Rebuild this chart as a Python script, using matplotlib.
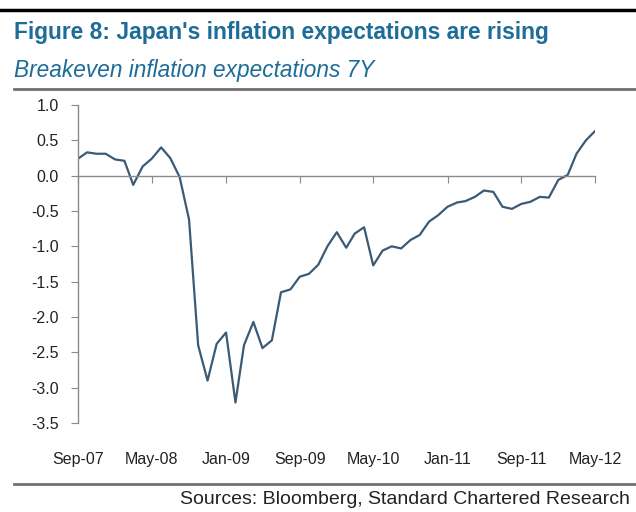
import numpy as np
import pandas as pd
import matplotlib
matplotlib.use('Agg')
import matplotlib.pyplot as plt
from matplotlib.lines import Line2D
from matplotlib.transforms import blended_transform_factory

plt.rcParams['font.family'] = ['Liberation Sans', 'DejaVu Sans']

# Monthly 7Y breakeven inflation, Sep-07 .. May-12
months = pd.date_range('2007-09-01', '2012-05-01', freq='MS')
breakeven_7y = [
    0.24, 0.33, 0.31, 0.31, 0.23, 0.21, -0.13, 0.13, 0.24, 0.40,
    0.25, -0.02, -0.62, -2.40, -2.90, -2.38, -2.22, -3.21, -2.40, -2.07,
    -2.44, -2.33, -1.65, -1.61, -1.43, -1.39, -1.26, -1.00, -0.80, -1.02,
    -0.82, -0.73, -1.27, -1.06, -1.00, -1.03, -0.91, -0.84, -0.65, -0.56,
    -0.44, -0.38, -0.36, -0.30, -0.21, -0.23, -0.44, -0.47, -0.40, -0.37,
    -0.30, -0.31, -0.06, 0.01, 0.31, 0.50, 0.63,
]
tick_months = months[::8]
tick_labels = [d.strftime('%b-%y') for d in tick_months]
y_ticks = np.arange(-3.5, 1.01, 0.5)

title_blue = '#1e6c98'
line_col = '#3b5a75'
axis_gray = '#8a8a8a'

W, H = 636, 512
fig = plt.figure(figsize=(W / 100, H / 100), dpi=100)
ax = fig.add_axes([78 / W, 1 - 423 / H, (595 - 78) / W, (423 - 105) / H])

ax.plot(months, breakeven_7y, color=line_col, lw=1.6)

ax.set_xlim(months[0], months[-1])
ax.set_ylim(-3.5, 1.0)
ax.set_yticks(y_ticks)
ax.set_yticklabels([f'{v:.1f}' for v in y_ticks])
ax.set_xticks(tick_months)

for s in ('top', 'right'):
    ax.spines[s].set_visible(False)
ax.spines['bottom'].set_position(('data', 0))
for s in ('left', 'bottom'):
    ax.spines[s].set_color(axis_gray)
    ax.spines[s].set_linewidth(1.0)

ax.tick_params(axis='x', labelbottom=False, direction='out', length=5,
               color=axis_gray)
ax.tick_params(axis='y', direction='out', length=5, color=axis_gray,
               labelsize=11.5, labelcolor='#222222', pad=9)

# month labels sit under the plot area, not on the zero line
trans = blended_transform_factory(ax.transData, ax.transAxes)
for d, lab in zip(tick_months, tick_labels):
    ax.text(d, -0.116, lab, transform=trans, ha='center', va='center',
            fontsize=11.5, color='#222222')

# header / footer rules
fig.add_artist(Line2D([0, 1], [1 - 10 / H] * 2, color='black', lw=2.5))
fig.add_artist(Line2D([14 / W, 1], [1 - 89 / H] * 2, color='#707070', lw=2))
fig.add_artist(Line2D([14 / W, 1], [1 - 484 / H] * 2, color='#707070', lw=2))

fig.text(14 / W, 1 - 33 / H, "Figure 8: Japan's inflation expectations are rising",
         fontsize=16.4, fontweight='bold', color=title_blue, va='center')
fig.text(14 / W, 1 - 70 / H, 'Breakeven inflation expectations 7Y',
         fontsize=16.3, style='italic', color=title_blue, va='center')
fig.text(180 / W, 1 - 500 / H, 'Sources: Bloomberg, Standard Chartered Research',
         fontsize=14.0, color='#222222', va='center')

fig.savefig('out.png', dpi=100)
